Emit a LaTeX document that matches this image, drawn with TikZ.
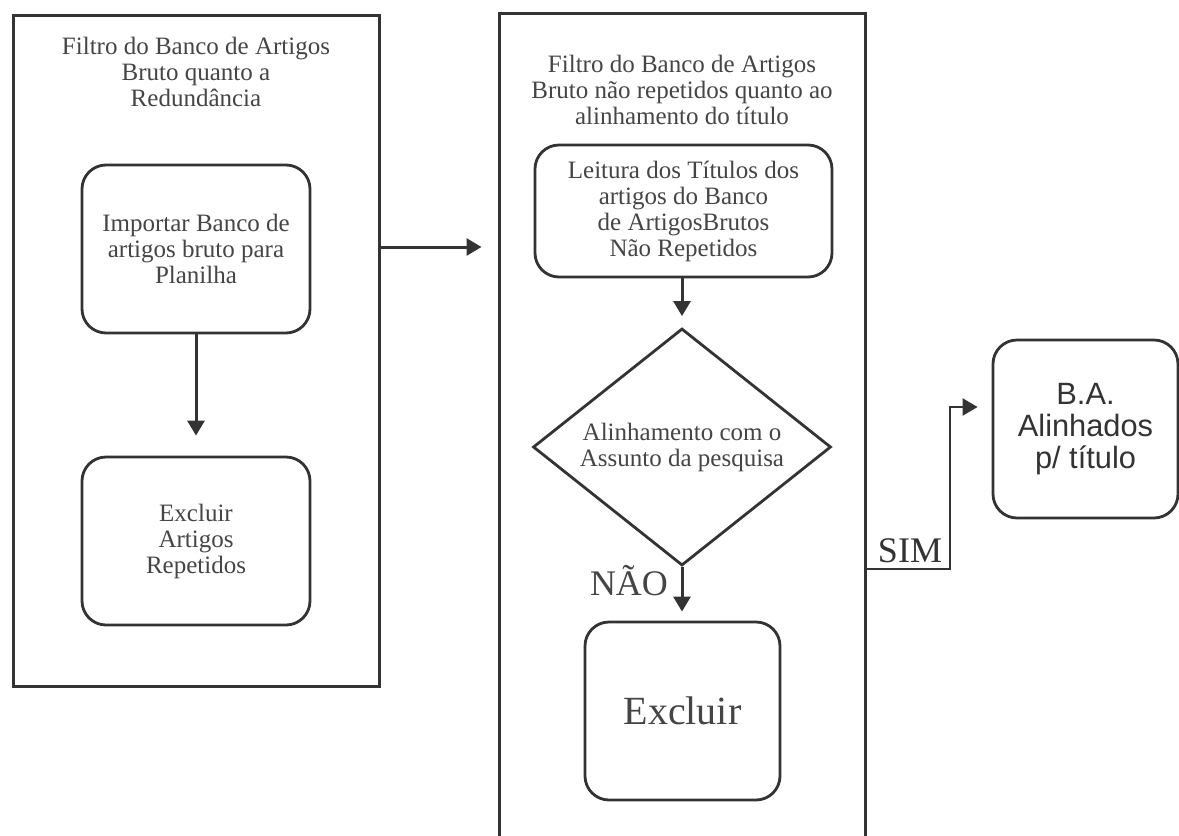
\documentclass[tikz,border=0pt]{standalone}
\usepackage{fontspec}
\setmainfont{Liberation Serif}
\newfontfamily\arialf{Liberation Sans}
\usetikzlibrary{shapes.geometric,arrows.meta}
\definecolor{linec}{HTML}{333333}
\definecolor{textc}{HTML}{454545}
\begin{document}
\begin{tikzpicture}[x=0.5pt,y=-0.5pt,
  frame/.style={draw=linec, line width=1.5pt, minimum width=183pt, inner sep=0pt},
  lbl/.style={align=center, text=textc, font=\fontsize{12.5}{13}\selectfont},
  rbox/.style={draw=linec, line width=1.4pt, rounded corners=12pt, inner sep=0pt, lbl},
  arr/.style={draw=linec, line width=1.5pt, -{Triangle[length=7.5pt,width=8.5pt]}},
]
\useasboundingbox (0,0) rectangle (1179,836);
\clip (0,0) rectangle (1179,836);
\fill[white] (0,0) rectangle (1179,836);
% containers
\node[frame, minimum height=335.5pt] (left) at (196,350.5) {};
\node[frame, minimum height=443.5pt] (mid) at (682,456.5) {};
\node[lbl] (lefttitle) at (196,72) {Filtro do Banco de Artigos\\Bruto quanto a\\Redundância};
\node[lbl] (midtitle) at (682,90) {Filtro do Banco de Artigos\\Bruto não repetidos quanto ao\\alinhamento do título};
% left column
\node[rbox, minimum width=114pt, minimum height=84pt] (imp) at (196,249) {Importar Banco de\\artigos bruto para\\Planilha};
\node[rbox, minimum width=114pt, minimum height=84pt] (exc) at (196,541) {Excluir\\Artigos\\Repetidos};
% middle column
\node[rbox, minimum width=148.5pt, minimum height=66pt] (lei) at (683.5,211) {Leitura dos Títulos dos\\artigos do Banco\\de ArtigosBrutos\\Não Repetidos};
\node[diamond, shape aspect=1.25, draw=linec, line width=1.4pt, minimum width=149pt, minimum height=118.5pt, inner sep=0pt, lbl] (dec) at (682,447) {Alinhamento com o\\Assunto da pesquisa};
\node[rbox, minimum width=97.5pt, minimum height=89pt, font=\fontsize{20}{22}\selectfont] (exc2) at (682.5,711) {Excluir};
\node[lbl, font=\fontsize{18}{20}\selectfont] (nao) at (629,581) {NÃO};
% right
\node[rbox, minimum width=92.5pt, minimum height=89pt, text=linec, font=\arialf\fontsize{15.4}{16}\selectfont] (ba) at (1085.5,429) {B.A.\\Alinhados\\p/ título};
\node[lbl, text=linec, font=\fontsize{18}{20}\selectfont] (sim) at (910,551) {SIM};
% connectors
\coordinate (ay) at (0,247);
\coordinate (sy) at (0,569);
\coordinate (bend) at (950,407);
\draw[arr, shorten >=10pt] (imp.south) -- (exc.north);
\draw[arr, shorten >=8pt] (left.east |- ay) -- (mid.west |- ay);
\draw[arr, shorten >=5.5pt] (lei.south -| dec.north) -- (dec.north);
\draw[arr, shorten >=4.5pt] (dec.south) -- (exc2.north -| dec.south);
\draw[arr, line width=1.1pt, shorten >=7pt] (mid.east |- sy) -| (bend) -- (bend -| ba.west);
\end{tikzpicture}
\end{document}
